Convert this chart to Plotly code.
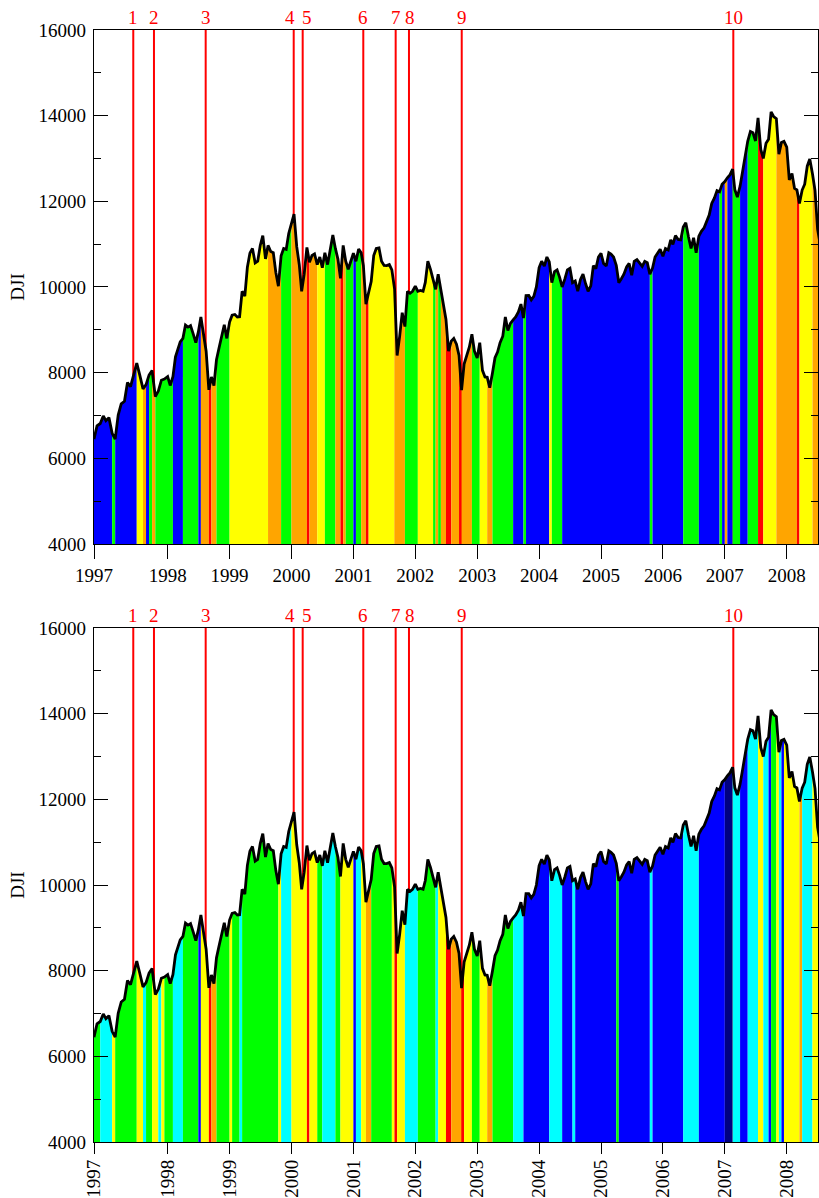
import numpy as np
import pandas as pd
import plotly.graph_objects as go

# ---------------- data ----------------
# semi-monthly sampling dates (1st and 16th of each month)
DATES = [f"{y}-{m:02d}-{d:02d}" for y in range(1997, 2009) for m in range(1, 13) for d in (1, 16)]
DATES = [d for d in DATES if d <= "2008-07-16"]

DJI = [
    # 1997
    6448, 6760, 6813, 6990, 6878, 6950, 6583, 6450, 7008, 7270, 7331, 7770,
    7672, 7920, 8222, 7940, 7622, 7720, 7945, 8050, 7442, 7570, 7823, 7850,
    # 1998
    7908, 7700, 7907, 8370, 8546, 8720, 8800, 9110, 9063, 9100, 8900, 8700,
    8952, 9300, 8883, 8500, 7600, 7900, 7700, 8300, 8592, 8900, 9117, 8800,
    # 1999
    9181, 9340, 9358, 9300, 9306, 9900, 9786, 10460, 10789, 10900, 10560, 10600,
    10970, 11200, 10655, 10970, 10829, 10800, 10337, 10020, 10729, 10900, 10878, 11250,
    # 2000
    11497, 11700, 10940, 10520, 9900, 10300, 10922, 10580, 10734, 10770, 10522, 10700,
    10448, 10800, 10522, 10900, 11215, 10900, 10651, 10200, 10971, 10600, 10415, 10600,
    # 2001
    10787, 10600, 10887, 10800, 10495, 9600, 9879, 10126, 10735, 10900, 10912, 10600,
    10502, 10500, 10523, 10400, 9950, 8400, 8848, 9400, 9075, 9900, 9852, 9900,
    # 2002
    10022, 9900, 9920, 9900, 10106, 10600, 10404, 10200, 9946, 10300, 9925, 9500,
    9243, 8500, 8737, 8800, 8664, 8400, 7592, 8200, 8397, 8600, 8896, 8500,
    # 2003
    8342, 8700, 8054, 7900, 7891, 7650, 7992, 8350, 8480, 8700, 8850, 9300,
    8985, 9150, 9233, 9300, 9415, 9600, 9275, 9800, 9801, 9700, 9782, 10000,
    # 2004
    10454, 10600, 10488, 10700, 10584, 10100, 10358, 10400, 10226, 10000, 10188, 10400,
    10435, 10100, 10140, 9900, 10174, 10300, 10080, 9900, 10027, 10500, 10428, 10700,
    # 2005
    10783, 10550, 10490, 10800, 10766, 10700, 10504, 10100, 10193, 10300, 10467, 10550,
    10275, 10600, 10641, 10550, 10481, 10600, 10569, 10300, 10440, 10700, 10806, 10880,
    # 2006
    10718, 10900, 10865, 11100, 10993, 11200, 11109, 11100, 11400, 11500, 11168, 10900,
    11150, 10800, 11186, 11300, 11381, 11550, 11679, 11950, 12081, 12250, 12221, 12400,
    # 2007
    12463, 12550, 12622, 12750, 12269, 12100, 12354, 12700, 13063, 13400, 13628, 13600,
    13409, 13950, 13212, 13000, 13358, 13450, 14087, 13980, 13930, 13100, 13372, 13400,
    # 2008
    13265, 12500, 12650, 12300, 12266, 11950, 12263, 12400, 12820, 12990, 12638, 12250,
    11350, 11000,
]

YEARS = list(range(1997, 2009))
Y_TICKS = [4000, 6000, 8000, 10000, 12000, 14000, 16000]
Y_MINOR = [5000, 7000, 9000, 11000, 13000, 15000]

EVENTS = [1997.533, 1997.814, 1998.614, 2000.036, 2000.181,
          2001.160, 2001.683, 2001.898, 2002.750, 2007.137]
EVENT_LABELS = ["1", "2", "3", "4", "5", "6", "7", "8", "9", "10"]
EVENT_LABEL_SHIFT = [0, 0, 0, -4, 4, 0, 0, 1.5, 0, 0]

COLORS = {"B": "#0000FF", "G": "#00FF00", "Y": "#FFFF00", "O": "#FFA500",
          "R": "#FF0000", "C": "#00FFFF", "N": "#000080"}

# regimes, top panel: start (fractional year) and colour code
P1_START = [1997.000, 1997.240, 1997.262, 1997.593, 1997.661, 1997.678, 1997.701, 1997.805, 1997.832,
            1998.090, 1998.242, 1998.494, 1998.527, 1998.646, 1998.667, 1998.792,
            1999.006, 1999.641, 1999.842, 1999.995,
            2000.250, 2000.275, 2000.409, 2000.522, 2000.706, 2000.783, 2000.808, 2000.840, 2000.981, 2000.998,
            2001.131, 2001.184, 2001.257, 2001.648, 2001.842,
            2002.044, 2002.273, 2002.297, 2002.351, 2002.404, 2002.509, 2002.580, 2002.722, 2002.759, 2002.911,
            2003.029, 2003.163, 2003.247, 2003.583, 2003.732, 2003.759,
            2004.165, 2004.189, 2004.381,
            2005.780, 2005.819,
            2006.341, 2006.562, 2006.895, 2006.922, 2006.976,
            2007.003, 2007.137, 2007.246, 2007.380, 2007.553, 2007.606, 2007.822,
            2008.178, 2008.207, 2008.430]
P1_CODE = ("B G B Y O B G O G "
           "B G B O R O G "
           "Y O G O "
           "R O Y G O R O G B G "
           "O R Y O G "
           "Y G O G O R O R O G "
           "Y O G B G B "
           "Y G B "
           "G B "
           "G B G B O "
           "B G B G R Y O "
           "R Y O").split()

# regimes, bottom panel
P2_START = [1997.000, 1997.102, 1997.242, 1997.261, 1997.593, 1997.658, 1997.692, 1997.801, 1997.855, 1997.923, 1997.977,
            1998.090, 1998.247, 1998.494, 1998.522, 1998.656, 1998.675, 1998.792,
            1999.006, 1999.039, 1999.168, 1999.195, 1999.777, 1999.842, 1999.992,
            2000.267, 2000.280, 2000.407, 2000.514, 2000.714, 2000.783, 2000.982, 2000.998,
            2001.134, 2001.187, 2001.284, 2001.635, 2001.680, 2001.696, 2001.850,
            2002.023, 2002.330, 2002.355, 2002.507, 2002.572, 2002.738, 2002.771, 2002.911,
            2003.029, 2003.163, 2003.239, 2003.583, 2003.756,
            2004.165, 2004.381, 2004.527, 2004.596,
            2005.242, 2005.307, 2005.780, 2005.819,
            2006.341, 2006.562, 2006.992,
            2007.137, 2007.246, 2007.380, 2007.556, 2007.622, 2007.714, 2007.767, 2007.822, 2007.892, 2007.929, 2007.965,
            2008.187, 2008.242, 2008.430]
P2_CODE = ("G C Y G Y C G Y C Y G "
           "C G B Y R O G "
           "Y G C G Y C Y "
           "R Y G C G Y B C "
           "Y O G Y R Y C "
           "G C Y R O R Y G "
           "Y O G C B "
           "C B C B "
           "G B C B "
           "C B N "
           "C B C Y C B G Y C B Y "
           "O C Y").split()

# ---------------- axis scale (1997 is drawn wider than later years) ----------------
STRETCH_1997 = 1.19
X_END = 2008.505


def to_u(fy):
    fy = np.asarray(fy, dtype=float)
    return np.where(fy >= 1998, fy, 1998 - STRETCH_1997 * (1998 - fy))


dt = pd.to_datetime(DATES)
fy_data = dt.year + (dt.dayofyear - 1) / 365.25
xu = to_u(fy_data)
yv = np.array(DJI, dtype=float)

fig = go.Figure()

FONT = "Liberation Serif, Times New Roman, serif"


def add_panel(starts, codes, xa, ya):
    bu = to_u(starts)
    idx = []
    for k, b in enumerate(bu):
        i = 0 if k == 0 else int(np.abs(xu - b).argmin())
        if k > 0 and i <= idx[-1]:
            i = idx[-1] + 1
        idx.append(i)
    idx.append(len(xu) - 1)
    for k, c in enumerate(codes):
        a, b = idx[k], idx[k + 1]
        fig.add_trace(go.Scatter(x=xu[a:b + 1], y=yv[a:b + 1], mode="none", fill="tozeroy",
                                 fillcolor=COLORS[c], xaxis=xa, yaxis=ya,
                                 hoverinfo="skip", showlegend=False))
    fig.add_trace(go.Scatter(x=xu, y=yv, mode="lines", line=dict(color="black", width=2.8),
                             xaxis=xa, yaxis=ya, hoverinfo="skip", showlegend=False))


add_panel(P1_START, P1_CODE, "x", "y")
add_panel(P2_START, P2_CODE, "x2", "y2")

shapes = []
annotations = []
ev_u = to_u(EVENTS)
for xa, ya in (("x", "y"), ("x2", "y2")):
    for u, lab, sh in zip(ev_u, EVENT_LABELS, EVENT_LABEL_SHIFT):
        shapes.append(dict(type="line", xref=xa, yref=ya, x0=u, x1=u, y0=Y_TICKS[0], y1=Y_TICKS[-1],
                           line=dict(color="red", width=2), layer="below"))
        annotations.append(dict(x=u, xref=xa, y=1, yref=f"{ya} domain", text=lab, showarrow=False,
                                yanchor="bottom", yshift=0, xshift=sh,
                                font=dict(family=FONT, size=19, color="red")))

tick_u = to_u(YEARS)
xcommon = dict(range=[float(to_u(1997)), X_END], tickmode="array", tickvals=list(tick_u),
               ticktext=[str(y) for y in YEARS], ticks="outside", tickwidth=1.2,
               tickcolor="black", showline=True, linecolor="black", linewidth=1.2, mirror=True,
               showgrid=False, zeroline=False, tickfont=dict(family=FONT, size=19, color="black"))
ycommon = dict(range=[4000, 16000], tickmode="array", tickvals=Y_TICKS,
               ticktext=[str(v) for v in Y_TICKS], ticks="inside", ticklen=14,
               tickwidth=1.2, tickcolor="black", showline=True, linecolor="black", linewidth=1.2,
               mirror="allticks", showgrid=False, zeroline=False, ticklabelstandoff=3,
               minor=dict(ticks="inside", ticklen=7, tickwidth=1.2, tickcolor="black",
                          tickvals=Y_MINOR, showgrid=False),
               tickfont=dict(family=FONT, size=19, color="black"),
               title=dict(text="DJI", font=dict(family=FONT, size=19, color="black"), standoff=8))

fig.update_layout(
    width=819, height=1198,
    margin=dict(l=94, r=1, t=30, b=56, autoexpand=False),
    plot_bgcolor="white", paper_bgcolor="white", showlegend=False,
    font=dict(family=FONT, size=19, color="black"),
    xaxis=dict(**xcommon, anchor="y", domain=[0, 1], tickangle=0, ticklen=14),
    xaxis2=dict(**xcommon, anchor="y2", domain=[0, 1], tickangle=-90, ticklen=11,
                ticklabelstandoff=-2),
    yaxis=dict(**ycommon, anchor="x", domain=[0.5378, 1]),
    yaxis2=dict(**ycommon, anchor="x2", domain=[0, 0.4622]),
    shapes=shapes, annotations=annotations,
)

fig.write_html("out.html", config={"displayModeBar": False},
               post_script="document.body.style.margin='0';document.body.style.padding='0';"
                           "document.body.style.overflow='hidden';")
